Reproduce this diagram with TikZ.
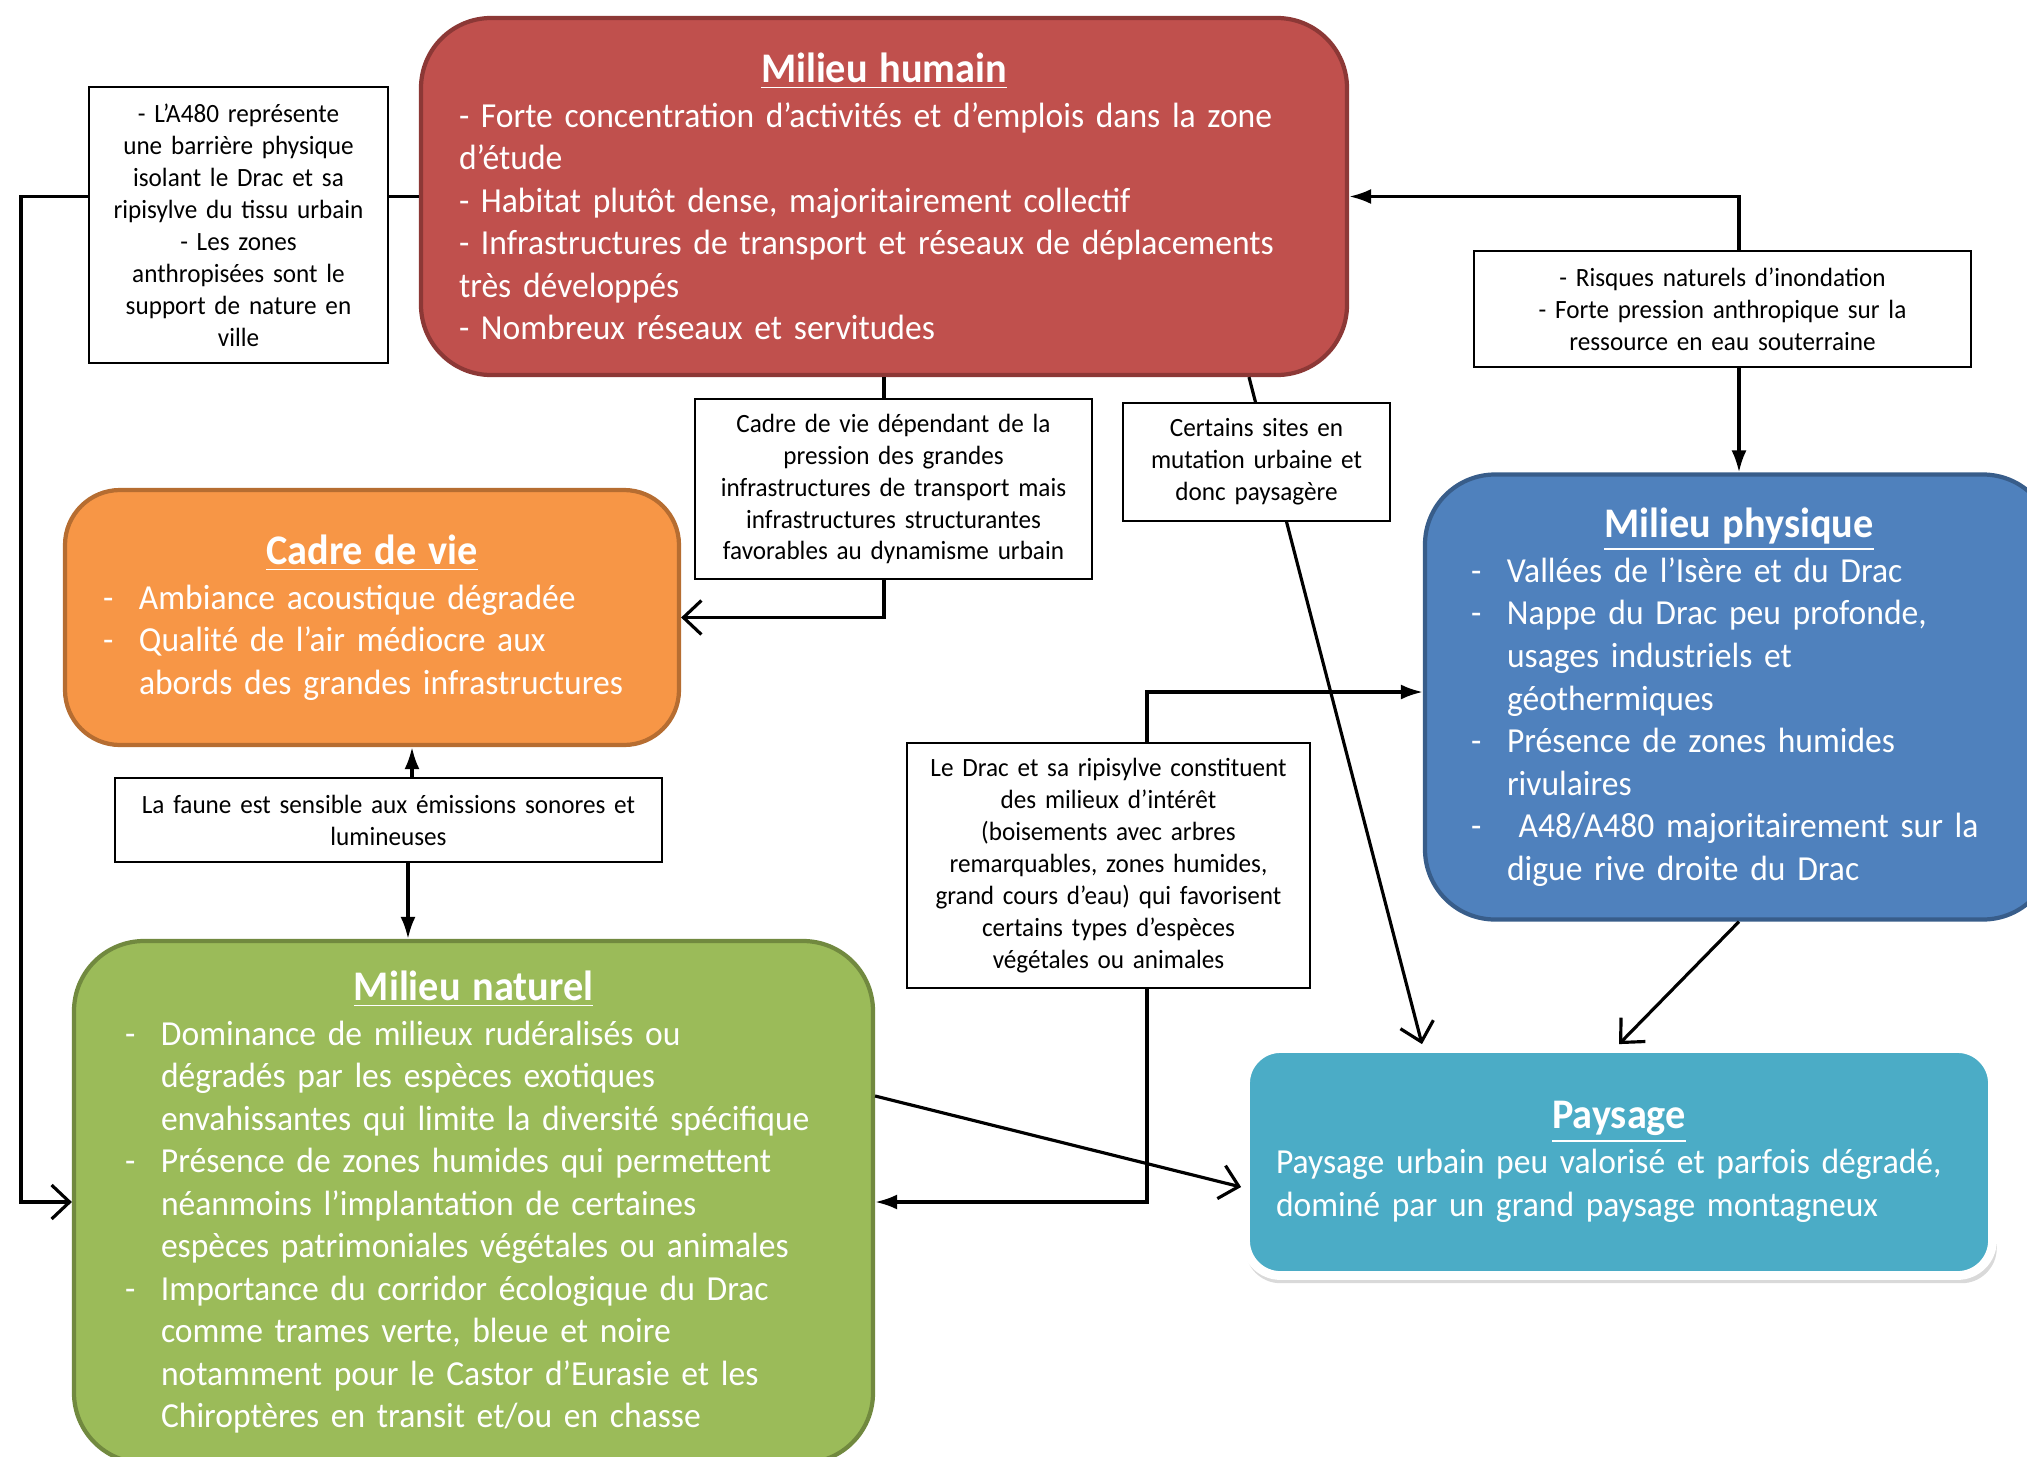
\documentclass[tikz,border=0pt]{standalone}
\usepackage{fontspec}
\setmainfont{Carlito}[FakeStretch=0.955]
\usepackage{tikz}
\usetikzlibrary{arrows.meta,shadows}

\definecolor{humainred}{HTML}{C0504D}
\definecolor{humainedge}{HTML}{8C3836}
\definecolor{cadreorange}{HTML}{F79646}
\definecolor{cadreedge}{HTML}{B66D31}
\definecolor{naturegreen}{HTML}{9BBB59}
\definecolor{natureedge}{HTML}{71893F}
\definecolor{physblue}{HTML}{4F81BD}
\definecolor{physedge}{HTML}{385D8A}
\definecolor{paysteal}{HTML}{4BACC6}

\newcommand{\bigtxt}{\fontsize{10}{12.1}\selectfont\hyphenpenalty=10000\exhyphenpenalty=10000}
\newcommand{\smalltxt}{\fontsize{7.5}{9.1}\selectfont\hyphenpenalty=10000\exhyphenpenalty=10000}
\newcommand{\boxtitle}[1]{\noindent\hbox to\hsize{\hss\fontsize{12}{13}\selectfont\bfseries\underline{#1}\hss}}
\newcommand{\itemdash}{\makebox[3.6mm][l]{-}}
\newcommand{\itemgap}{\hspace*{3.6mm}}

\tikzset{
  themebox/.style={rounded corners=7mm, line width=1.2pt, text=white, align=left, font=\bigtxt, inner ysep=1mm},
  notebox/.style={draw, line width=0.6pt, fill=white, align=center, font=\smalltxt, inner xsep=1mm, inner ysep=0.5mm},
  link/.style={line width=0.9pt},
  headin/.style={-{Latex[length=2.2mm,width=1.5mm]}},
  barbin/.style={-{Straight Barb[length=1.8mm,width=3.4mm]}},
}

\begin{document}
\begin{tikzpicture}[x=0.1mm, y=-0.1mm]
    \useasboundingbox (0,0) rectangle (2027,1456);
    \clip (0,0) rectangle (2027,1456);
    %the five themes
    \node[themebox, fill=humainred, draw=humainedge, minimum width=92.6mm, minimum height=35.7mm, text width=85mm, inner xsep=3.8mm] (humain) at (884,196.5) {\boxtitle{Milieu humain}\\[0.7pt]
      - Forte concentration d’activités et d’emplois dans la zone\\
      d’étude\\
      - Habitat plutôt dense, majoritairement collectif\\
      - Infrastructures de transport et réseaux de déplacements\\
      très développés\\
      - Nombreux réseaux et servitudes};
    \node[themebox, rounded corners=5.5mm, fill=cadreorange, draw=cadreedge, minimum width=61.4mm, minimum height=25.5mm, text width=53.8mm, inner xsep=3.8mm] (cadre) at (372,617.5) {\boxtitle{Cadre de vie}\\[0.7pt]
      \itemdash Ambiance acoustique dégradée\\
      \itemdash Qualité de l’air médiocre aux\\
      \itemgap abords des grandes infrastructures};
    \node[themebox, fill=naturegreen, draw=natureedge, minimum width=79.9mm, minimum height=52.2mm, text width=69.7mm, inner xsep=5.1mm] (naturel) at (473.5,1202) {\boxtitle{Milieu naturel}\\[0.7pt]
      \itemdash Dominance de milieux rudéralisés ou\\
      \itemgap dégradés par les espèces exotiques\\
      \itemgap envahissantes qui limite la diversité spécifique\\
      \itemdash Présence de zones humides qui permettent\\
      \itemgap néanmoins l’implantation de certaines\\
      \itemgap espèces patrimoniales végétales ou animales\\
      \itemdash Importance du corridor écologique du Drac\\
      \itemgap comme trames verte, bleue et noire\\
      \itemgap notamment pour le Castor d’Eurasie et les\\
      \itemgap Chiroptères en transit et/ou en chasse};
    \node[themebox, fill=physblue, draw=physedge, minimum width=62.8mm, minimum height=44.5mm, text width=53.6mm, inner xsep=4.6mm] (physique) at (1739,697) {\boxtitle{Milieu physique}\\[0.7pt]
      \itemdash Vallées de l’Isère et du Drac\\
      \itemdash Nappe du Drac peu profonde,\\
      \itemgap usages industriels et\\
      \itemgap géothermiques\\
      \itemdash Présence de zones humides\\
      \itemgap rivulaires\\
      \itemdash \ A48/A480 majoritairement sur la\\
      \itemgap digue rive droite du Drac};
    \node[themebox, rounded corners=3.5mm, fill=paysteal, draw=white, line width=2.5pt, drop shadow={opacity=0.3, shadow xshift=0.2mm, shadow yshift=-0.7mm, shadow scale=1.006}, minimum width=74.7mm, minimum height=22.7mm, text width=68.6mm, inner xsep=3.05mm] (paysage) at (1619,1162) {\boxtitle{Paysage}\\[0.7pt]
      Paysage urbain peu valorisé et parfois dégradé,\\
      dominé par un grand paysage montagneux};
    %line behind the mutation box
    \draw[link, barbin] ([xshift=36.5mm]humain.south) -- ([xshift=-19.7mm]paysage.north);
    %the notes
    \node[notebox, minimum width=29.9mm, minimum height=27.6mm, text width=27.9mm] (a480) at (238.5,225) {- L’A480 représente\\ une barrière physique\\ isolant le Drac et sa\\ ripisylve du tissu urbain\\ - Les zones\\ anthropisées sont le\\ support de nature en\\ ville};
    \node[notebox, minimum width=39.7mm, minimum height=18mm, text width=37.7mm] (dependance) at (893.5,489) {Cadre de vie dépendant de la\\ pression des grandes\\ infrastructures de transport mais\\ infrastructures structurantes\\ favorables au dynamisme urbain};
    \node[notebox, minimum width=26.7mm, minimum height=11.8mm, text width=24.7mm] (mutation) at (1256.5,462) {Certains sites en\\ mutation urbaine et\\ donc paysagère};
    \node[notebox, minimum width=49.7mm, minimum height=11.6mm, text width=47.7mm] (risques) at (1722.5,309) {- Risques naturels d’inondation\\ - Forte pression anthropique sur la\\ ressource en eau souterraine};
    \node[notebox, minimum width=40.3mm, minimum height=24.5mm, text width=38.3mm] (drac) at (1108.5,865.5) {Le Drac et sa ripisylve constituent\\ des milieux d’intérêt\\ (boisements avec arbres\\ remarquables, zones humides,\\ grand cours d’eau) qui favorisent\\ certains types d’espèces\\ végétales ou animales};
    \node[notebox, minimum width=54.7mm, minimum height=8.4mm, text width=52.7mm] (faune) at (388.5,820) {La faune est sensible aux émissions sonores et\\ lumineuses};
    \coordinate (lbend) at (21,0);
    \coordinate (dracx) at (1147,0);
    \coordinate (fauneup) at (412,0);
    \coordinate (faunedown) at (408,0);
    %connectors
    \draw[link] (humain.west) -- (humain.west -| a480.east);
    \draw[link, barbin] (humain.west -| a480.west) -| (lbend |- naturel.west) -- (naturel.west);
    \draw[link] (humain.south) -- (humain.south |- dependance.north);
    \draw[link, barbin] (humain.south |- dependance.south) |- (cadre.east);
    \draw[link, headin] (risques.north -| physique.north) |- (humain.east);
    \draw[link, headin] (risques.south -| physique.north) -- (physique.north);
    \draw[link, headin] (dracx |- drac.north) |- ([yshift=0.5mm]physique.west);
    \draw[link, headin] (dracx |- drac.south) |- (naturel.east);
    \draw[link, headin] (fauneup |- faune.north) -- (fauneup |- cadre.south);
    \draw[link, headin] (faunedown |- faune.south) -- (faunedown |- naturel.north);
    \draw[link, barbin] (physique.south) -- (paysage.north);
    \draw[link, barbin] ([yshift=10.6mm]naturel.east) -- ([yshift=-2.5mm]paysage.west);
\end{tikzpicture}
\end{document}
